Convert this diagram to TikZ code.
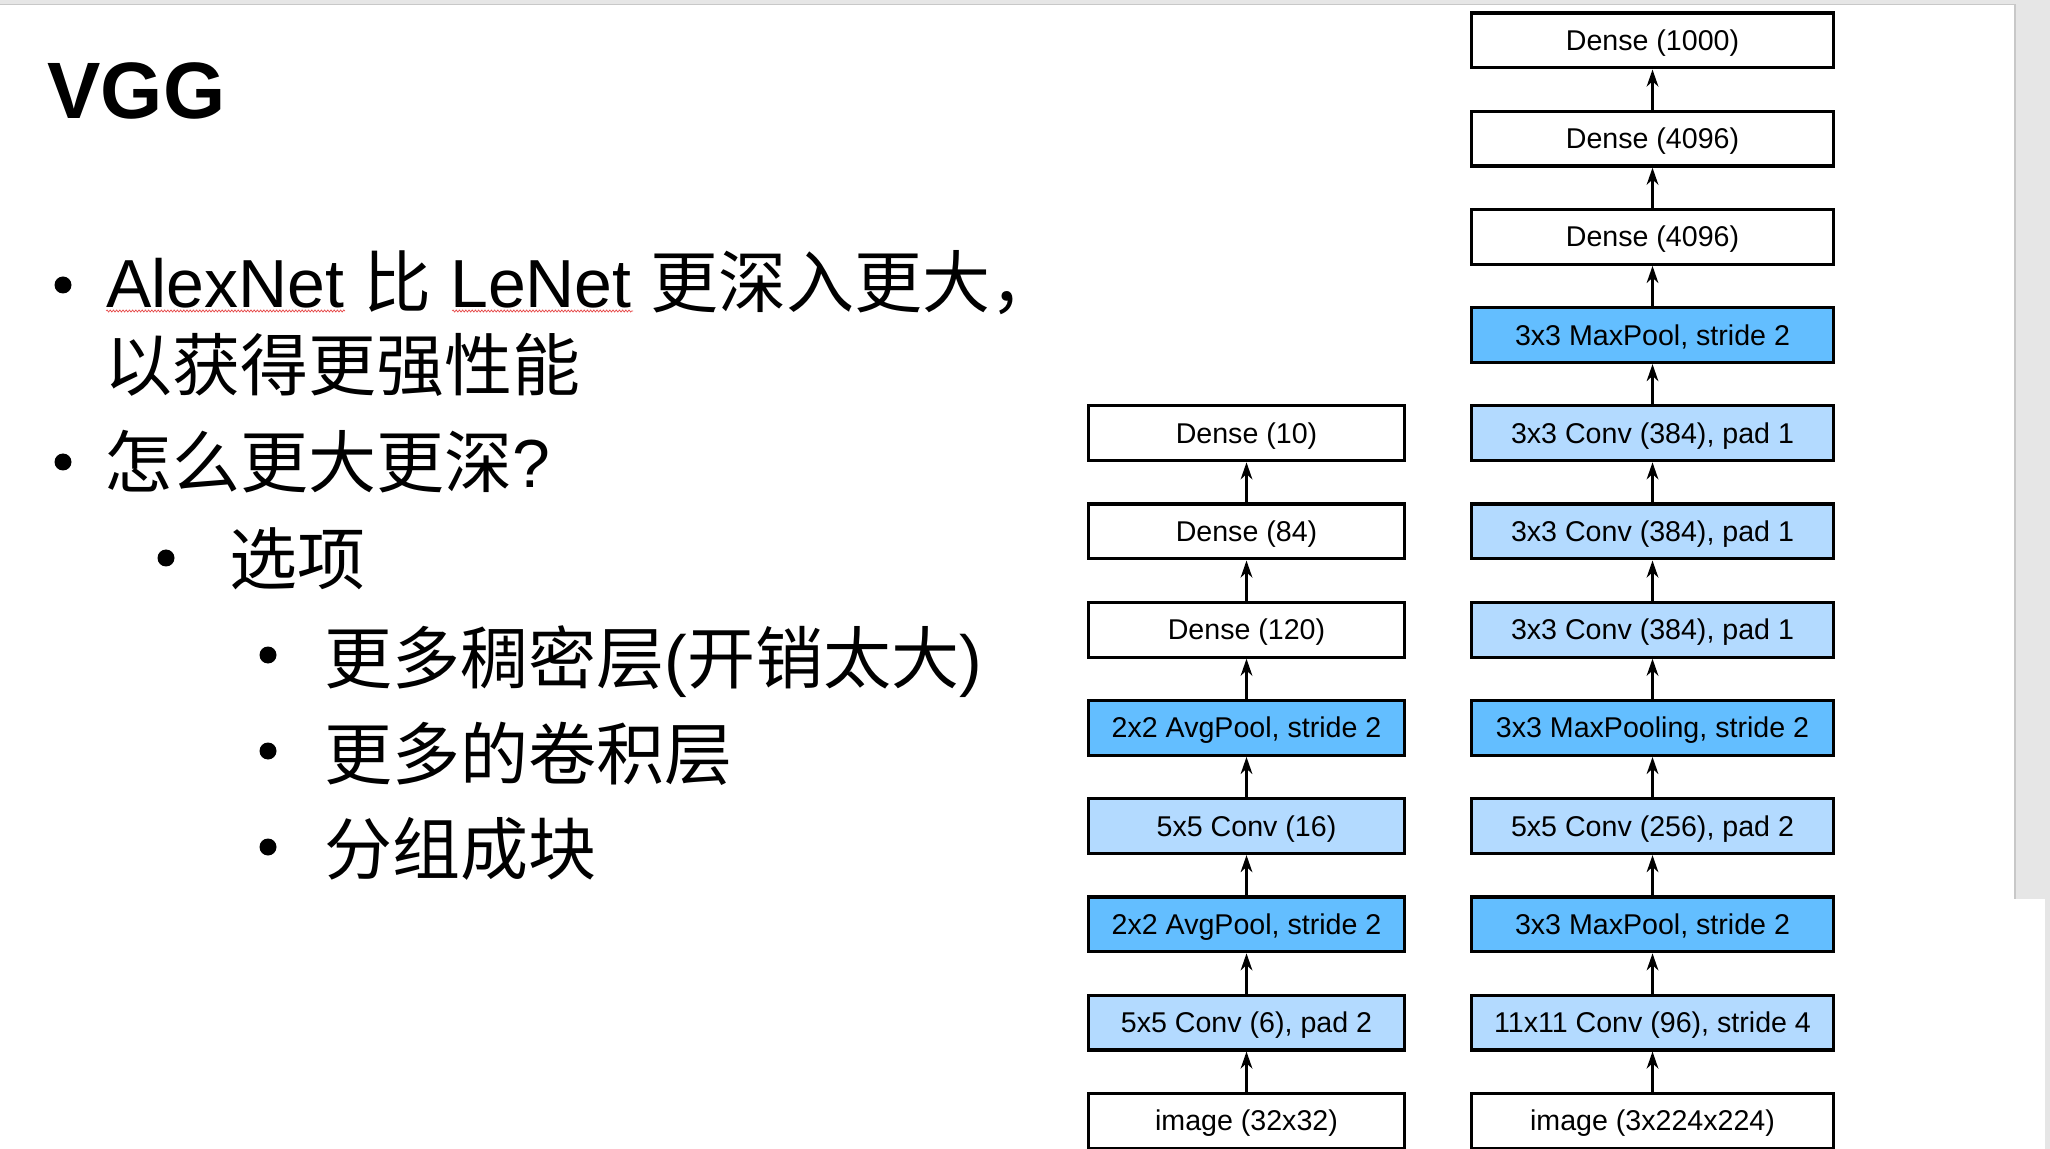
\documentclass[tikz,border=0pt]{standalone}
\usepackage{fontspec}
\setmainfont{Liberation Sans}
\newfontfamily\cjk{Noto Sans CJK SC}
\usetikzlibrary{arrows.meta,decorations.pathmorphing}
\definecolor{poolblue}{RGB}{99,190,255}
\definecolor{convblue}{RGB}{179,218,255}
\definecolor{framegray}{RGB}{230,230,230}
\definecolor{frameline}{RGB}{200,200,200}
\definecolor{spellred}{RGB}{230,70,70}
\newcommand\myBody{\fontsize{34pt}{40pt}\selectfont}
\begin{document}
\begin{tikzpicture}[x=0.5pt,y=-0.5pt,
  blk/.style={draw=black, line width=1.6pt, minimum height=27.4pt, inner sep=0pt,
    font=\fontsize{14.3pt}{16pt}\selectfont, text height=10pt, text depth=0pt},
  wideblk/.style={blk, minimum width=181pt},
  narrowblk/.style={blk, minimum width=158pt},
  dense/.style={fill=white},
  pool/.style={fill=poolblue},
  conv/.style={fill=convblue},
  arr/.style={line width=1.4pt, -{Stealth[length=8.5pt,width=5.8pt,inset=2.6pt]}},
  txt/.style={anchor=base west, inner sep=0pt, font=\myBody},
  bul/.style={fill=black},
  spell/.style={draw=spellred, line width=0.35pt, decorate, decoration={snake, segment length=1.6pt, amplitude=0.5pt}}
]
\useasboundingbox (0,0) rectangle (2050,1149);
\fill[white] (0,0) rectangle (2050,1149);
% window frame
\fill[framegray] (0,0) rectangle (2050,4.5);
\fill[framegray] (2015,0) rectangle (2050,899);
\fill[framegray] (2045,899) rectangle (2050,1149);
\draw[frameline, line width=0.6pt] (0,4.5) -- (2015,4.5) -- (2015,899);

% title
\node[anchor=base west, inner sep=0pt, font=\fontsize{40pt}{48pt}\selectfont\bfseries] (title) at (47,119) {VGG};

% bullets
\fill[bul] (63,285) circle (8.5);
\fill[bul] (63,462) circle (8.5);
\fill[bul] (166,558) circle (8.5);
\fill[bul] (268,655) circle (8.5);
\fill[bul] (268,751) circle (8.5);
\fill[bul] (268,847) circle (8.5);

\node[txt] (l1) at (106,308) {AlexNet {\cjk 比} LeNet {\cjk 更深入更大，}};
\node[txt] (l2) at (104,391) {\cjk 以获得更强性能};
\node[txt] (l3) at (104,488) {{\cjk 怎么更大更深}?};
\node[txt] (l4) at (229,585) {\cjk 选项};
\node[txt] (l5) at (324,683) {{\cjk 更多稠密层}({\cjk 开销太大})};
\node[txt] (l6) at (324,779) {\cjk 更多的卷积层};
\node[txt] (l7) at (324,874) {\cjk 分组成块};
\draw[spell] (106,311) -- (345,311);
\draw[spell] (452,311) -- (633,311);

% AlexNet column
\node[wideblk,dense] (a0) at (1652.5,40.5) {Dense (1000)};
\node[wideblk,dense] (a1) at (1652.5,138.7) {Dense (4096)};
\node[wideblk,dense] (a2) at (1652.5,236.9) {Dense (4096)};
\node[wideblk,pool]  (a3) at (1652.5,335.1) {3x3 MaxPool, stride 2};
\node[wideblk,conv]  (a4) at (1652.5,433.3) {3x3 Conv (384), pad 1};
\node[wideblk,conv]  (a5) at (1652.5,531.5) {3x3 Conv (384), pad 1};
\node[wideblk,conv]  (a6) at (1652.5,629.7) {3x3 Conv (384), pad 1};
\node[wideblk,pool]  (a7) at (1652.5,727.9) {3x3 MaxPooling, stride 2};
\node[wideblk,conv]  (a8) at (1652.5,826.1) {5x5 Conv (256), pad 2};
\node[wideblk,pool]  (a9) at (1652.5,924.3) {3x3 MaxPool, stride 2};
\node[wideblk,conv]  (a10) at (1652.5,1022.5) {11x11 Conv (96), stride 4};
\node[wideblk,dense] (a11) at (1652.5,1120.7) {image (3x224x224)};

% LeNet column
\node[narrowblk,dense] (b4) at (1246.5,433.3) {Dense (10)};
\node[narrowblk,dense] (b5) at (1246.5,531.5) {Dense (84)};
\node[narrowblk,dense] (b6) at (1246.5,629.7) {Dense (120)};
\node[narrowblk,pool]  (b7) at (1246.5,727.9) {2x2 AvgPool, stride 2};
\node[narrowblk,conv]  (b8) at (1246.5,826.1) {5x5 Conv (16)};
\node[narrowblk,pool]  (b9) at (1246.5,924.3) {2x2 AvgPool, stride 2};
\node[narrowblk,conv]  (b10) at (1246.5,1022.5) {5x5 Conv (6), pad 2};
\node[narrowblk,dense] (b11) at (1246.5,1120.7) {image (32x32)};

% arrows
\foreach \lo/\hi in {a1/a0,a2/a1,a3/a2,a4/a3,a5/a4,a6/a5,a7/a6,a8/a7,a9/a8,a10/a9,a11/a10,
                     b5/b4,b6/b5,b7/b6,b8/b7,b9/b8,b10/b9,b11/b10}
  \draw[arr] (\lo.north) -- (\hi.south);
\end{tikzpicture}
\end{document}
